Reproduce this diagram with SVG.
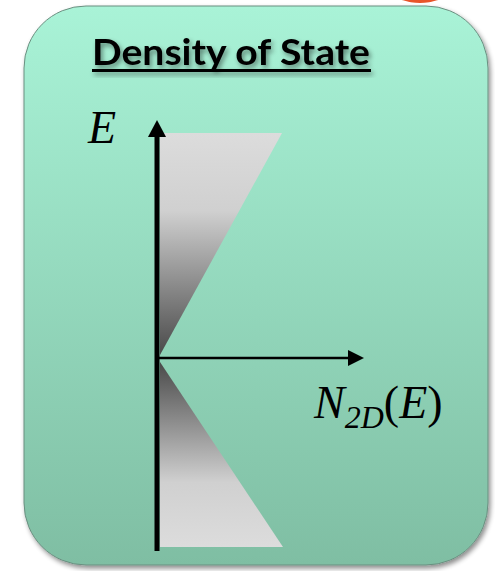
<svg xmlns="http://www.w3.org/2000/svg" width="495" height="571" viewBox="0 0 495 571">
<defs>
<linearGradient id="bg" x1="0" y1="0" x2="0" y2="1">
<stop offset="0" stop-color="#a9f3d7"/>
<stop offset="1" stop-color="#7fbea3"/>
</linearGradient>
<linearGradient id="up" x1="0" y1="0" x2="0" y2="1">
<stop offset="0" stop-color="#dcdcdc"/>
<stop offset="0.35" stop-color="#d0d0d0"/>
<stop offset="1" stop-color="#4a4a4a"/>
</linearGradient>
<linearGradient id="down" x1="0" y1="0" x2="0" y2="1">
<stop offset="0" stop-color="#4a4a4a"/>
<stop offset="0.65" stop-color="#d0d0d0"/>
<stop offset="1" stop-color="#dcdcdc"/>
</linearGradient>
<filter id="sh" x="-10%" y="-10%" width="120%" height="120%">
<feGaussianBlur in="SourceAlpha" stdDeviation="2.5"/>
<feOffset dx="2" dy="3"/>
<feComponentTransfer><feFuncA type="linear" slope="0.45"/></feComponentTransfer>
<feMerge><feMergeNode/><feMergeNode in="SourceGraphic"/></feMerge>
</filter>
<style>
.title{font-family:Lato,"Liberation Sans",sans-serif;font-weight:bold;font-size:36px;fill:#000;}
.math{font-family:"Liberation Serif","Times New Roman",serif;font-style:italic;fill:#000;}
.up{font-style:normal;}
</style>
</defs>
<ellipse cx="420" cy="-6" rx="24" ry="9" fill="#e8552a"/>
<rect x="24" y="6" width="464" height="559" rx="62" ry="62" fill="url(#bg)" stroke="#6a8f80" stroke-width="1" filter="url(#sh)"/>
<g id="title" filter="url(#sh)">
<text class="title" x="92" y="65" textLength="278" lengthAdjust="spacingAndGlyphs">Density of State</text>
<rect x="92" y="69" width="279" height="3" fill="#000"/>
</g>
<g id="upper-band">
<polygon points="160,133 282,133 160,355" fill="url(#up)"/>
</g>
<g id="lower-band">
<polygon points="160,362 283,547 160,547" fill="url(#down)"/>
</g>
<g id="connectors">
<line x1="157" y1="551" x2="157" y2="136" stroke="#000" stroke-width="5"/>
<polygon points="157,120 148,137 166,137" fill="#000"/>
<line x1="157" y1="358" x2="348" y2="358" stroke="#000" stroke-width="2.5"/>
<polygon points="364,358 348,350 348,366" fill="#000"/>
</g>
<g id="label-E">
<text class="math" x="88" y="143" font-size="46">E</text>
</g>
<g id="label-N">
<text class="math" x="314" y="418" font-size="46">N<tspan font-size="32" dy="10">2D</tspan><tspan class="up" font-size="46" dy="-10">(</tspan><tspan>E</tspan><tspan class="up">)</tspan></text>
</g>
</svg>
